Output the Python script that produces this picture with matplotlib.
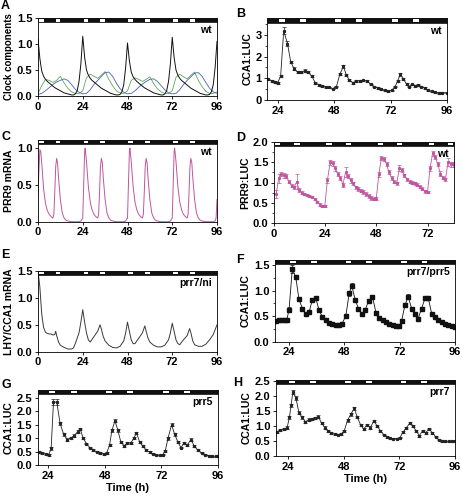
import numpy as np
import matplotlib
matplotlib.use('Agg')
import matplotlib.pyplot as plt
from matplotlib.patches import Rectangle
from matplotlib.ticker import MultipleLocator

plt.rcParams['font.family'] = ['Liberation Sans', 'DejaVu Sans']
plt.rcParams['font.weight'] = 'bold'
plt.rcParams['axes.labelweight'] = 'bold'
plt.rcParams['axes.linewidth'] = 0.6

# ---- A: model, clock components (wt) ----
a_t_hourly = np.arange(0, 97)
a_black = [1.10, 0.72, 0.48, 0.38, 0.32, 0.28, 0.25, 0.22, 0.19, 0.16, 0.14, 0.12,
           0.10, 0.08, 0.06, 0.05, 0.04, 0.03, 0.02, 0.02, 0.04, 0.10, 0.28, 0.62,
           1.15, 0.75, 0.50, 0.40, 0.34, 0.30, 0.27, 0.24, 0.21, 0.18, 0.15, 0.13,
           0.11, 0.09, 0.07, 0.05, 0.04, 0.03, 0.02, 0.02, 0.03, 0.08, 0.22, 0.55,
           1.02, 0.68, 0.46, 0.37, 0.32, 0.28, 0.25, 0.22, 0.19, 0.16, 0.14, 0.12,
           0.10, 0.08, 0.06, 0.05, 0.04, 0.03, 0.02, 0.02, 0.04, 0.10, 0.28, 0.62,
           1.13, 0.74, 0.50, 0.40, 0.34, 0.30, 0.27, 0.24, 0.21, 0.18, 0.15, 0.13,
           0.11, 0.09, 0.07, 0.05, 0.04, 0.03, 0.02, 0.02, 0.03, 0.08, 0.22, 0.55,
           1.05]
a_t_2h = np.arange(0, 97, 2)
a_green = [0.05, 0.20, 0.32, 0.30, 0.26, 0.30, 0.38, 0.25, 0.15, 0.08, 0.05, 0.05,
           0.10, 0.35, 0.42, 0.38, 0.34, 0.40, 0.47, 0.32, 0.20, 0.10, 0.06, 0.05,
           0.10, 0.30, 0.35, 0.32, 0.28, 0.32, 0.37, 0.24, 0.14, 0.08, 0.05, 0.05,
           0.10, 0.36, 0.42, 0.37, 0.33, 0.40, 0.46, 0.30, 0.18, 0.09, 0.05, 0.05,
           0.08]
a_blue = [0.03, 0.05, 0.10, 0.16, 0.22, 0.27, 0.30, 0.33, 0.30, 0.22, 0.13, 0.07,
          0.04, 0.05, 0.12, 0.22, 0.30, 0.38, 0.45, 0.46, 0.38, 0.25, 0.14, 0.07,
          0.04, 0.05, 0.10, 0.17, 0.23, 0.28, 0.32, 0.33, 0.28, 0.20, 0.12, 0.06,
          0.04, 0.05, 0.12, 0.22, 0.30, 0.37, 0.44, 0.45, 0.38, 0.26, 0.15, 0.08,
          0.05]

# ---- B: CCA1:LUC wt ----
b_t = [20.0, 21.5, 23.0, 24.0, 25.3, 26.6, 28.2, 29.6, 31.0, 32.5, 34.0, 35.5, 37.0,
       38.5, 40.0, 41.5, 43.0, 44.5, 46.0, 47.5, 49.0, 50.5, 52.0, 53.2, 54.5, 56.0,
       57.5, 59.0, 60.5, 62.0, 63.5, 65.0, 66.5, 68.0, 69.5, 71.0, 72.5, 74.0, 75.0,
       76.2, 77.5, 78.8, 80.0, 81.3, 82.6, 83.8, 85.0, 86.5, 88.0, 89.5, 91.0, 92.5,
       94.0, 96.0]
b_val = [0.95, 0.88, 0.82, 0.78, 1.10, 3.20, 2.60, 1.75, 1.45, 1.28, 1.28, 1.35, 1.28,
         1.10, 0.80, 0.70, 0.64, 0.60, 0.58, 0.53, 0.62, 1.20, 1.55, 1.15, 0.92, 0.80,
         0.88, 0.88, 0.90, 0.88, 0.72, 0.62, 0.55, 0.50, 0.45, 0.42, 0.45, 0.62, 0.88,
         1.18, 0.95, 0.75, 0.62, 0.72, 0.65, 0.70, 0.62, 0.55, 0.45, 0.40, 0.35, 0.32,
         0.33, 0.33]
b_err = [0.04, 0.04, 0.04, 0.04, 0.06, 0.15, 0.10, 0.06, 0.05, 0.05, 0.05, 0.06, 0.05,
         0.05, 0.04, 0.04, 0.04, 0.03, 0.03, 0.03, 0.04, 0.06, 0.08, 0.05, 0.04, 0.04,
         0.04, 0.04, 0.04, 0.04, 0.03, 0.03, 0.03, 0.03, 0.03, 0.03, 0.03, 0.04, 0.05,
         0.08, 0.05, 0.04, 0.04, 0.04, 0.04, 0.04, 0.03, 0.03, 0.03, 0.03, 0.03, 0.03,
         0.03, 0.03]

# ---- C: PRR9 mRNA model (wt) ----
c_t = [0, 0.5, 1, 1.5, 2, 3, 4, 5, 6, 7, 8, 8.5, 9, 9.5, 10, 10.5, 11, 12, 13, 14, 15, 16,
       18, 20, 22, 23, 24, 24.5, 25, 25.3, 26, 27, 28, 29, 30, 31, 32, 32.5, 33, 33.5, 34,
       34.5, 35, 36, 37, 38, 39, 40, 42, 44, 46, 47, 48, 48.5, 49, 49.3, 50, 51, 52, 53,
       54, 55, 56, 56.5, 57, 57.5, 58, 58.5, 59, 60, 61, 62, 63, 64, 66, 68, 70, 71, 72,
       72.5, 73, 73.3, 74, 75, 76, 77, 78, 79, 80, 80.5, 81, 81.5, 82, 82.5, 83, 84, 85,
       86, 87, 88, 90, 92, 94, 95, 95.5, 96]
c_val = [0.35, 0.70, 0.98, 0.95, 0.80, 0.45, 0.25, 0.15, 0.10, 0.07, 0.05, 0.10, 0.40,
         0.75, 0.86, 0.80, 0.60, 0.30, 0.12, 0.05, 0.02, 0.01, 0.0, 0.0, 0.0, 0.01, 0.05,
         0.50, 0.95, 1.00, 0.82, 0.48, 0.27, 0.16, 0.10, 0.07, 0.05, 0.10, 0.40, 0.75,
         0.86, 0.80, 0.60, 0.30, 0.12, 0.05, 0.02, 0.01, 0.0, 0.0, 0.0, 0.01, 0.05, 0.50,
         0.95, 1.00, 0.82, 0.48, 0.27, 0.16, 0.10, 0.07, 0.05, 0.10, 0.40, 0.75, 0.86,
         0.80, 0.60, 0.30, 0.12, 0.05, 0.02, 0.01, 0.0, 0.0, 0.0, 0.01, 0.05, 0.50, 0.95,
         1.00, 0.82, 0.48, 0.27, 0.16, 0.10, 0.07, 0.05, 0.10, 0.40, 0.75, 0.86, 0.80,
         0.60, 0.30, 0.12, 0.05, 0.02, 0.01, 0.0, 0.0, 0.0, 0.01, 0.05, 0.30]

# ---- D: PRR9:LUC wt ----
d_t = [1.0, 2.2, 3.4, 4.6, 5.8, 7.0, 8.2, 9.4, 10.6, 11.8, 13.0, 14.2, 15.4, 16.6, 17.8,
       19.0, 20.2, 21.4, 22.6, 23.8, 25.0, 26.3, 27.5, 28.7, 29.9, 31.1, 32.3, 33.5, 34.7,
       35.9, 37.1, 38.3, 39.5, 40.7, 41.9, 43.1, 44.3, 45.5, 46.7, 47.9, 49.1, 50.3, 51.5,
       52.7, 53.9, 55.1, 56.3, 57.5, 58.7, 59.9, 61.1, 62.3, 63.5, 64.7, 65.9, 67.1, 68.3,
       69.5, 70.7, 71.9, 73.1, 74.3, 75.5, 76.7, 77.9, 79.1, 80.3, 81.5, 82.7, 83.9]
d_val = [0.72, 1.10, 1.20, 1.18, 1.15, 1.02, 0.92, 0.88, 1.02, 0.82, 0.75, 0.72, 0.70,
         0.67, 0.64, 0.60, 0.52, 0.46, 0.43, 0.43, 1.05, 1.50, 1.47, 1.35, 1.20, 1.10,
         0.95, 1.25, 1.15, 1.05, 0.98, 0.88, 0.84, 0.80, 0.77, 0.72, 0.67, 0.62, 0.60,
         0.60, 1.20, 1.60, 1.58, 1.45, 1.25, 1.10, 1.02, 0.98, 1.35, 1.30, 1.18, 1.08,
         1.02, 1.00, 0.98, 0.95, 0.90, 0.85, 0.78, 0.77, 1.35, 1.72, 1.62, 1.45, 1.22,
         1.12, 1.08, 1.50, 1.45, 1.45]
d_err = [0.10, 0.12, 0.05, 0.06, 0.05, 0.04, 0.04, 0.04, 0.18, 0.05, 0.04, 0.03, 0.03,
         0.03, 0.03, 0.03, 0.03, 0.03, 0.03, 0.03, 0.06, 0.06, 0.06, 0.06, 0.05, 0.05,
         0.05, 0.12, 0.05, 0.05, 0.04, 0.04, 0.04, 0.04, 0.04, 0.04, 0.04, 0.04, 0.04,
         0.04, 0.06, 0.05, 0.05, 0.05, 0.05, 0.05, 0.04, 0.04, 0.08, 0.05, 0.04, 0.04,
         0.04, 0.03, 0.03, 0.03, 0.03, 0.03, 0.03, 0.03, 0.06, 0.06, 0.05, 0.05, 0.05,
         0.04, 0.04, 0.10, 0.06, 0.06]

# ---- E: LHY/CCA1 mRNA model (prr7/ni) ----
e_t = [0, 1, 2, 3, 4, 5, 6, 7, 8, 9, 9.5, 10, 11, 12, 14, 16, 18, 19, 20, 22, 23, 24, 25,
       26, 27, 28, 30, 32, 33.3, 34, 35, 36, 38, 40, 42, 44, 46, 47, 48, 49, 50, 51, 52,
       54, 56, 57.3, 58, 59, 60, 62, 64, 66, 68, 70, 71, 72, 73, 74, 75, 76, 78, 80, 81.3,
       82, 83, 84, 86, 88, 90, 92, 94, 96]
e_val = [1.50, 1.20, 0.70, 0.45, 0.36, 0.34, 0.33, 0.33, 0.31, 0.32, 0.38, 0.30, 0.18,
         0.12, 0.08, 0.05, 0.05, 0.07, 0.15, 0.35, 0.55, 0.78, 0.55, 0.35, 0.22, 0.18,
         0.28, 0.38, 0.50, 0.42, 0.28, 0.20, 0.12, 0.08, 0.07, 0.10, 0.20, 0.35, 0.55,
         0.38, 0.22, 0.15, 0.15, 0.25, 0.35, 0.48, 0.38, 0.25, 0.18, 0.12, 0.09, 0.09,
         0.12, 0.22, 0.35, 0.53, 0.38, 0.22, 0.15, 0.13, 0.22, 0.30, 0.43, 0.35, 0.20,
         0.13, 0.10, 0.10, 0.14, 0.22, 0.32, 0.50]

# ---- F: CCA1:LUC prr7/prr5 ----
f_t = [18.2, 19.6, 20.8, 22.1, 23.0, 24.0, 25.4, 26.9, 28.3, 29.8, 31.2, 32.7, 34.1, 35.6,
       37.0, 38.5, 39.9, 41.4, 42.8, 44.3, 45.7, 46.9, 48.6, 50.1, 51.2, 52.7, 54.1, 55.6,
       57.0, 58.5, 60.2, 61.7, 63.1, 64.6, 66.0, 67.5, 68.9, 70.4, 71.8, 72.8, 74.3, 75.7,
       77.2, 78.6, 80.0, 81.5, 83.0, 84.4, 85.9, 87.3, 88.8, 90.2, 91.7, 93.1, 94.6, 96.0]
f_val = [0.40, 0.42, 0.43, 0.43, 0.42, 0.63, 1.42, 1.27, 0.83, 0.65, 0.55, 0.58, 0.82,
         0.85, 0.62, 0.48, 0.42, 0.37, 0.35, 0.33, 0.33, 0.35, 0.50, 0.95, 1.10, 0.82,
         0.65, 0.55, 0.62, 0.80, 0.88, 0.57, 0.47, 0.43, 0.38, 0.35, 0.32, 0.30, 0.30,
         0.40, 0.72, 0.88, 0.65, 0.55, 0.45, 0.65, 0.85, 0.85, 0.55, 0.48, 0.42, 0.38,
         0.35, 0.32, 0.30, 0.28]
f_err = [0.03, 0.03, 0.03, 0.03, 0.03, 0.04, 0.08, 0.04, 0.04, 0.03, 0.03, 0.03, 0.04,
         0.04, 0.03, 0.02, 0.02, 0.02, 0.02, 0.02, 0.02, 0.02, 0.03, 0.05, 0.05, 0.04,
         0.03, 0.03, 0.03, 0.04, 0.04, 0.03, 0.02, 0.02, 0.02, 0.02, 0.02, 0.02, 0.02,
         0.03, 0.04, 0.05, 0.03, 0.03, 0.02, 0.03, 0.04, 0.04, 0.03, 0.02, 0.02, 0.02,
         0.02, 0.02, 0.02, 0.02]

# ---- G: CCA1:LUC prr5 ----
g_t = [20.0, 21.5, 23.0, 24.2, 25.2, 26.2, 27.6, 29.0, 30.5, 32.0, 33.5, 35.0, 36.5, 37.5,
       38.8, 40.2, 41.6, 43.0, 44.5, 46.0, 47.5, 48.8, 50.0, 51.0, 52.3, 53.5, 54.8, 56.2,
       57.6, 59.0, 60.3, 61.4, 62.8, 64.2, 65.6, 67.0, 68.4, 69.8, 71.2, 72.5, 73.6, 74.8,
       76.3, 77.6, 79.0, 80.3, 81.6, 83.0, 84.5, 86.0, 87.5, 89.0, 90.5, 92.0, 93.5, 95.0,
       96.0]
g_val = [0.50, 0.45, 0.40, 0.38, 0.62, 2.35, 2.35, 1.55, 1.15, 0.95, 1.00, 1.10, 1.25,
         1.35, 1.00, 0.80, 0.65, 0.55, 0.50, 0.45, 0.42, 0.45, 0.75, 1.30, 1.65, 1.30,
         0.85, 0.72, 0.82, 0.82, 1.00, 1.20, 0.85, 0.70, 0.55, 0.48, 0.42, 0.38, 0.36,
         0.38, 0.52, 1.00, 1.50, 1.15, 0.85, 0.65, 0.82, 0.75, 0.95, 0.70, 0.55, 0.45,
         0.38, 0.35, 0.33, 0.33, 0.33]
g_err = [0.03, 0.03, 0.03, 0.03, 0.05, 0.10, 0.10, 0.06, 0.05, 0.04, 0.04, 0.04, 0.05,
         0.05, 0.04, 0.03, 0.03, 0.03, 0.03, 0.03, 0.03, 0.03, 0.04, 0.06, 0.06, 0.05,
         0.04, 0.03, 0.04, 0.04, 0.04, 0.05, 0.04, 0.03, 0.03, 0.03, 0.02, 0.02, 0.02,
         0.02, 0.03, 0.05, 0.06, 0.05, 0.04, 0.03, 0.04, 0.03, 0.04, 0.03, 0.03, 0.02,
         0.02, 0.02, 0.02, 0.02, 0.02]

# ---- H: CCA1:LUC prr7 ----
h_t = [19.0, 20.5, 22.0, 23.5, 24.5, 25.2, 26.0, 27.3, 28.6, 30.0, 31.4, 32.8, 34.2, 35.6,
       37.0, 38.4, 39.8, 41.2, 42.6, 44.0, 45.4, 46.8, 48.2, 49.6, 51.0, 52.5, 53.8, 55.2,
       56.6, 58.0, 59.4, 61.0, 62.4, 63.8, 65.2, 66.6, 68.0, 69.4, 70.8, 72.2, 73.6, 75.0,
       76.5, 77.8, 79.2, 80.6, 82.0, 83.4, 84.8, 86.2, 87.6, 89.0, 90.4, 91.8, 93.2, 94.6,
       96.0]
h_val = [0.80, 0.88, 0.90, 0.95, 1.30, 1.70, 2.15, 1.95, 1.45, 1.30, 1.15, 1.22, 1.25,
         1.28, 1.32, 1.10, 0.95, 0.85, 0.78, 0.73, 0.72, 0.73, 0.85, 1.20, 1.40, 1.60,
         1.30, 1.05, 0.90, 1.05, 0.95, 1.18, 1.00, 0.85, 0.72, 0.65, 0.60, 0.58, 0.58,
         0.62, 0.80, 0.95, 1.10, 1.00, 0.85, 0.68, 0.85, 0.78, 0.92, 0.78, 0.65, 0.55,
         0.50, 0.50, 0.50, 0.50, 0.50]
h_err = [0.04, 0.04, 0.04, 0.04, 0.05, 0.06, 0.08, 0.06, 0.05, 0.05, 0.04, 0.04, 0.04,
         0.04, 0.05, 0.04, 0.04, 0.03, 0.03, 0.03, 0.03, 0.03, 0.03, 0.05, 0.05, 0.05,
         0.04, 0.04, 0.04, 0.04, 0.04, 0.04, 0.04, 0.03, 0.03, 0.03, 0.02, 0.02, 0.02,
         0.02, 0.03, 0.03, 0.04, 0.03, 0.03, 0.03, 0.03, 0.03, 0.03, 0.03, 0.02, 0.02,
         0.02, 0.02, 0.02, 0.02, 0.02]

light_starts = [0.5, 9.5]   # light pulses within each 24 h
light_len = 2.5

PINK = '#c0569f'


def day_bar(ax, frac):
    tr = ax.get_xaxis_transform()
    x0, x1 = ax.get_xlim()
    ax.add_patch(Rectangle((x0, 1 - frac), x1 - x0, frac, transform=tr, fc='#111111',
                           ec='#111111', lw=0.5, clip_on=False, zorder=5))
    for d in range(0, 120, 24):
        for s in light_starts:
            a, b = max(d + s, x0), min(d + s + light_len, x1)
            if b > a:
                ax.add_patch(Rectangle((a, 1 - frac * 0.78), b - a, frac * 0.56, transform=tr,
                                       fc='white', ec='none', clip_on=False, zorder=6))


def style(ax, xlim, ylim, xticks, yticks, ylabel, tag, bar_px, yfmt='%.1f', minor=None,
          ylabel_size=7.5):
    ax.set_xlim(xlim)
    ax.set_ylim(ylim)
    ax.set_xticks(xticks)
    ax.set_yticks(yticks)
    ax.set_yticklabels([yfmt % v for v in yticks])
    if minor:
        ax.yaxis.set_minor_locator(MultipleLocator(minor))
    ax.tick_params(which='major', direction='out', length=2.5, width=0.6, pad=1.5, labelsize=8)
    ax.tick_params(which='minor', direction='out', length=1.5, width=0.5)
    ax.set_ylabel(ylabel, fontsize=ylabel_size, labelpad=2)
    h = ax.get_position().height * 497
    day_bar(ax, bar_px / h)
    ax.text(0.97, 1 - (bar_px + 3) / h, tag, transform=ax.transAxes, ha='right', va='top',
            fontsize=7.5, fontweight='bold', zorder=7)


fig = plt.figure(figsize=(4.62, 4.97), dpi=100)
W, H = 462.0, 497.0


def add_axes(l, r, t, b):
    return fig.add_axes([l / W, 1 - b / H, (r - l) / W, (b - t) / H])


# A
ax = add_axes(38, 217, 18, 96)
ax.plot(a_t_2h, a_green, color='#5ea85e', lw=0.6)
ax.plot(a_t_2h, a_blue, color='#4a62b0', lw=0.6)
ax.plot(a_t_hourly, a_black, color='#111111', lw=0.7)
style(ax, (0, 96), (0, 1.5), [0, 24, 48, 72, 96], [0, 0.5, 1.0, 1.5], 'Clock components', 'wt',
      4.5, ylabel_size=7)

# B
ax = add_axes(267, 447, 18, 100)
ax.errorbar(b_t, b_val, yerr=b_err, color='#222222', lw=0.6, marker='s', ms=1.3,
            capsize=1.2, elinewidth=0.5, capthick=0.5)
style(ax, (19.5, 96), (0, 3.78), [24, 48, 72, 96], [0, 1, 2, 3], 'CCA1:LUC', 'wt', 4.5,
      yfmt='%d', minor=0.5)

# C
ax = add_axes(38, 217, 140, 221.7)
ax.plot(c_t, c_val, color=PINK, lw=0.7)
style(ax, (0, 96), (0, 1.11), [0, 24, 48, 72, 96], [0, 0.5, 1.0], 'PRR9 mRNA', 'wt', 4.0)

# D
ax = add_axes(274, 454, 141.7, 223.3)
ax.errorbar(d_t, d_val, yerr=d_err, color=PINK, lw=0.6, marker='s', ms=1.2,
            capsize=1.2, elinewidth=0.5, capthick=0.5)
style(ax, (0, 84.3), (0, 2.0), [0, 24, 48, 72], [0, 0.5, 1.0, 1.5, 2.0], 'PRR9:LUC', 'wt', 4.0,
      minor=0.25)

# E
ax = add_axes(38, 217, 271, 351.7)
ax.plot(e_t, e_val, color='#3a3a3a', lw=0.7)
style(ax, (0, 96), (0, 1.5), [0, 24, 48, 72, 96], [0, 0.5, 1.0, 1.5], 'LHY/CCA1 mRNA',
      'prr7/ni', 4.0)

# F
ax = add_axes(275, 455, 260, 341.7)
ax.errorbar(f_t, f_val, yerr=f_err, color='#111111', lw=0.6, marker='s', ms=2.6,
            capsize=1.2, elinewidth=0.5, capthick=0.5)
style(ax, (17.9, 96), (0, 1.6), [24, 48, 72, 96], [0, 0.5, 1.0, 1.5], 'CCA1:LUC', 'prr7/prr5',
      4.0, minor=0.25)

# G
ax = add_axes(37.7, 218, 390, 465)
ax.errorbar(g_t, g_val, yerr=g_err, color='#222222', lw=0.6, marker='s', ms=1.3,
            capsize=1.2, elinewidth=0.5, capthick=0.5)
style(ax, (19.5, 96), (0, 2.8), [24, 48, 72, 96], [0, 0.5, 1.0, 1.5, 2.0, 2.5], 'CCA1:LUC',
      'prr5', 4.0)
ax.set_xlabel('Time (h)', fontsize=8, labelpad=2)

# H
ax = add_axes(276, 455, 380, 456)
ax.errorbar(h_t, h_val, yerr=h_err, color='#222222', lw=0.6, marker='s', ms=1.3,
            capsize=1.2, elinewidth=0.5, capthick=0.5)
style(ax, (18.7, 96), (0, 2.55), [24, 48, 72, 96], [0, 0.5, 1.0, 1.5, 2.0, 2.5], 'CCA1:LUC',
      'prr7', 4.0)
ax.set_xlabel('Time (h)', fontsize=8, labelpad=2)

# panel letters
for letter, x, y in [('A', 1, 6), ('B', 236, 14), ('C', 1, 137), ('D', 236, 138),
                     ('E', 1, 255), ('F', 236, 260), ('G', 1, 385), ('H', 233, 383)]:
    fig.text(x / W, 1 - y / H, letter, fontsize=9, fontweight='bold', va='center', ha='left')

fig.savefig('out.png', dpi=100)
